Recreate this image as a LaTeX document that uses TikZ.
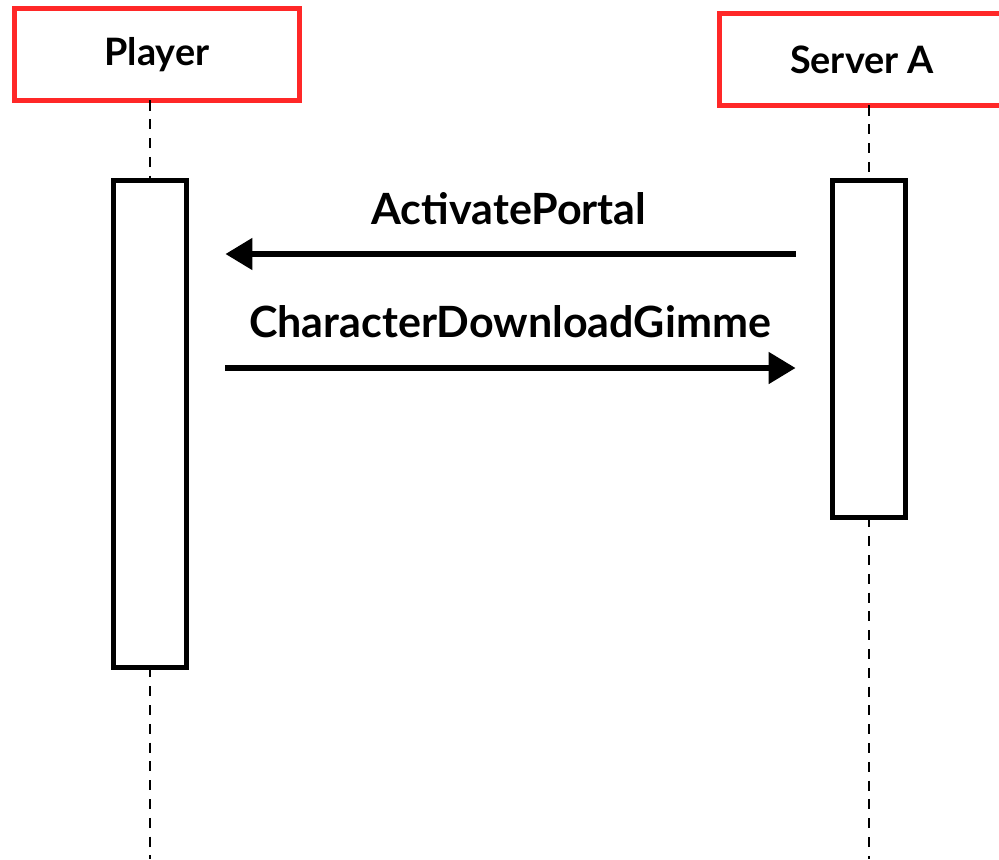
\documentclass[tikz,border=0pt]{standalone}
\usepackage{fontspec}
\setmainfont{Lato}
\usetikzlibrary{arrows.meta,positioning}
\definecolor{headred}{RGB}{255,40,40}

\begin{document}
\begin{tikzpicture}[x=0.02cm, y=-0.02cm,
  actor/.style={draw=headred, line width=3.1pt, minimum width=5.7cm,
                minimum height=1.84cm, inner sep=0pt, outer sep=0pt,
                font=\fontsize{21.5}{26}\selectfont\bfseries},
  act/.style={draw, line width=3.1pt, minimum width=1.46cm,
              inner sep=0pt, outer sep=0pt, fill=white},
  life/.style={dashed, line width=1.3pt, dash pattern=on 5.7pt off 5pt},
  msg/.style={-{Triangle[length=0.54cm, width=0.62cm]}, line width=3pt},
  lbl/.style={font=\fontsize{24.5}{30}\selectfont\bfseries}
]
\useasboundingbox (0,0) rectangle (999,859);
\node[actor] (player) at (157,54.5) {Player};
\node[actor] (server) at (862,59.5) {Server A};
\node[act, minimum height=9.74cm] (plyact) at (150,424) {};
\node[act, minimum height=6.74cm] (srvact) at (869,349) {};
\coordinate (pend) at (150,859);
\coordinate (send) at (869,859);
% lifelines
\draw[life] (player.south -| plyact) -- (plyact.north);
\draw[life] (plyact.south) -- (pend);
\draw[life] (server.south -| srvact) -- (srvact.north);
\draw[life] (srvact.south) -- (send);
% messages
\coordinate (m1) at (0,254);
\coordinate (m2) at (0,368);
\draw[msg, shorten <=0.74cm, shorten >=0.78cm] (srvact.west |- m1) -- (plyact.east |- m1);
\draw[msg, shorten <=0.78cm, shorten >=0.74cm] (plyact.east |- m2) -- (srvact.west |- m2);
\node[lbl] (l1) at (509,209) {ActivatePortal};
\node[lbl] (l2) at (510,322) {CharacterDownloadGimme};
\end{tikzpicture}
\end{document}
